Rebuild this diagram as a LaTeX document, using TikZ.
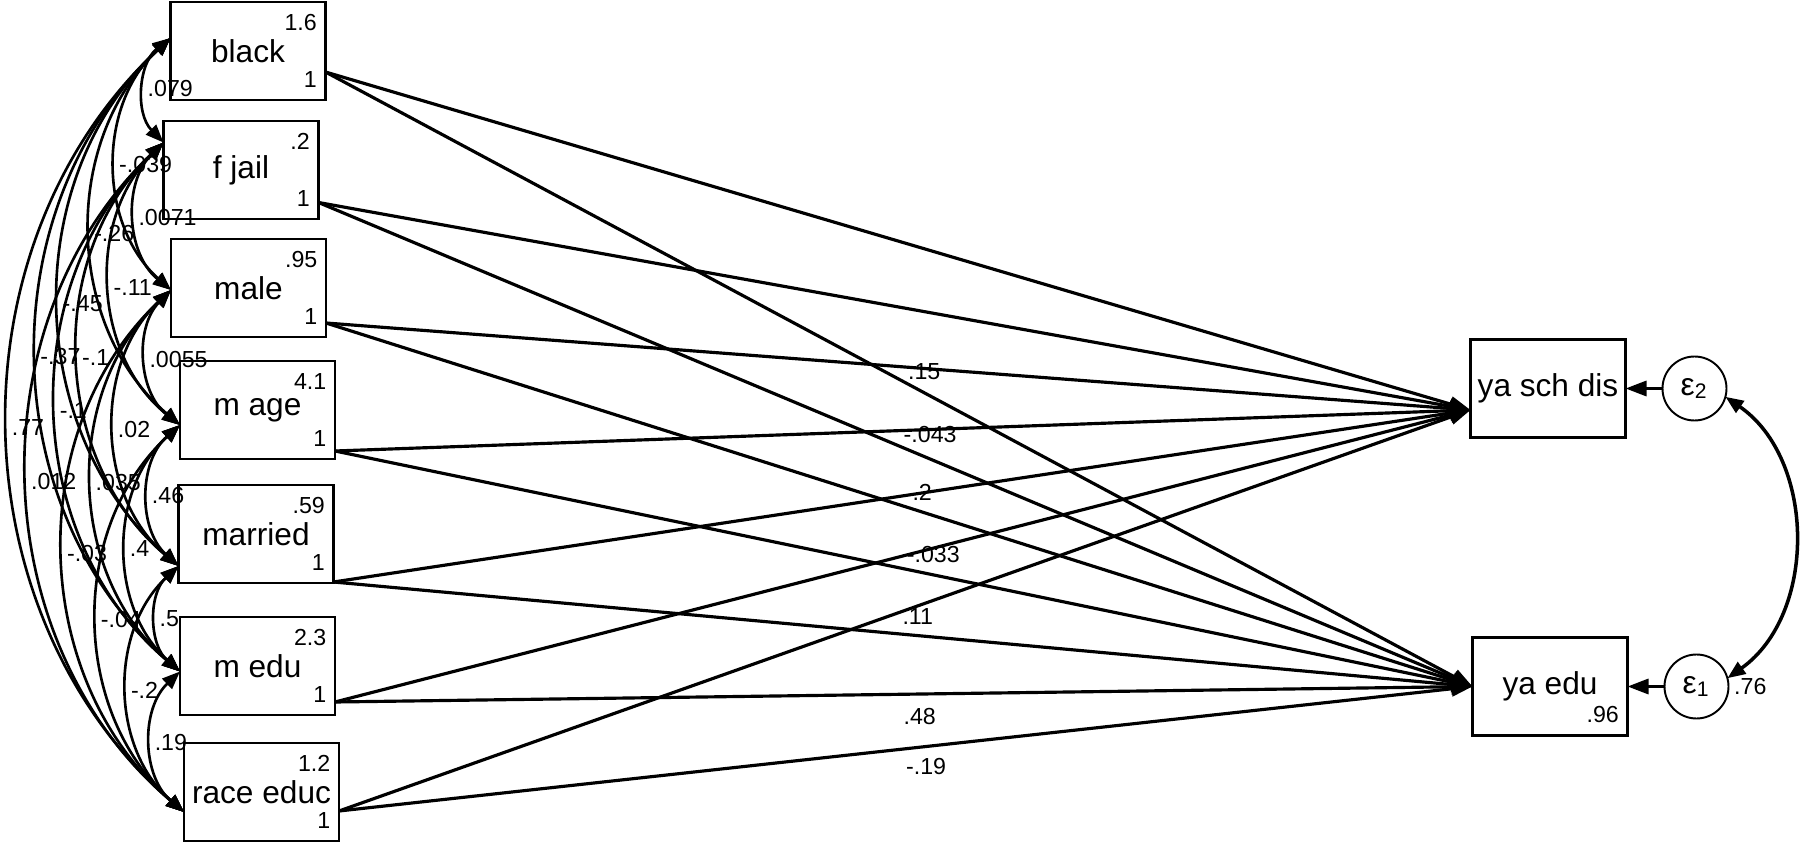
\documentclass[tikz,border=0pt]{standalone}
\usepackage{fontspec}
\setmainfont{Liberation Sans}
\usetikzlibrary{arrows.meta, positioning}

\begin{document}
\begin{tikzpicture}[
  obs/.style={
    rectangle, draw, line width=0.8pt, inner sep=0pt, outer sep=0pt,
    minimum width=1.55cm, minimum height=0.98cm,
    font=\fontsize{9}{11}\selectfont,
  },
  cornerlab/.style={font=\fontsize{6.6}{8}\selectfont, inner xsep=0.8mm, inner ysep=1.2mm},
  exo/.style={
    obs,
    label={[cornerlab, anchor=north east]north east:#1},
    label={[cornerlab, anchor=south east]south east:1},
  },
  err/.style={
    circle, draw, line width=0.55pt, inner sep=0pt, outer sep=0pt,
    minimum size=0.64cm, font=\fontsize{9}{11}\selectfont,
  },
  reg/.style={-{Triangle[length=2.1mm, width=1.5mm]}, line width=0.9pt},
  cov/.style={
    {Triangle[length=1.8mm, width=1.4mm]}-{Triangle[length=1.8mm, width=1.4mm]},
    line width=0.75pt, bend right=48,
  },
  plab/.style={font=\fontsize{6.6}{8}\selectfont, inner sep=0pt},
  clab/.style={font=\fontsize{6.6}{8}\selectfont, inner sep=0.6pt, anchor=west, pos=0.5},
]
  \useasboundingbox (0,0) rectangle (18,8.45);

  % Exogenous variables (left column)
  \node[exo=1.6] (black) at (2.48,7.94) {black};
  \node[exo=.2, below=0.21cm of black, xshift=-0.7mm] (fjail) {f jail};
  \node[exo=.95, below=0.2cm of fjail, xshift=0.75mm] (male) {male};
  \node[exo=4.1, below=0.24cm of male, xshift=0.9mm] (mage) {m age};
  \node[exo=.59, below=0.26cm of mage, xshift=-0.15mm] (married) {married};
  \node[exo=2.3, below=0.34cm of married, xshift=0.15mm] (medu) {m edu};
  \node[exo=1.2, below=0.28cm of medu, xshift=0.4mm] (raceeduc) {race educ};

  % Endogenous variables and errors
  \node[obs] (ysd) at (15.48,4.565) {ya sch dis};
  \node[obs, below=2cm of ysd, xshift=0.2mm,
    label={[cornerlab, anchor=south east]south east:.96}] (yedu) {ya edu};
  \node[err, right=0.37cm of ysd] (e2) {ε\textsubscript{2}};
  \node[err, right=0.37cm of yedu,
    label={[plab, anchor=west, inner sep=0.5mm]east:.76}] (e1) {ε\textsubscript{1}};

  % Regression paths
  \draw[reg] ([yshift=-2.1mm]black.east) -- ([yshift=-2.15mm]ysd.west);
  \draw[reg] ([yshift=-2.1mm]black.east) -- node[plab, pos=.522, yshift=2.1mm] {.15} (yedu.west);
  \draw[reg] ([yshift=-3.25mm]fjail.east) -- ([yshift=-2.15mm]ysd.west);
  \draw[reg] ([yshift=-3.25mm]fjail.east) -- node[plab, pos=.53, yshift=2.5mm] {-.043} (yedu.west);
  \draw[reg] ([yshift=-3.5mm]male.east) -- ([yshift=-2.15mm]ysd.west);
  \draw[reg] ([yshift=-3.5mm]male.east) -- node[plab, pos=.52, yshift=2mm] {.2} (yedu.west);
  \draw[reg] ([yshift=-4.1mm]mage.east) -- ([yshift=-2.15mm]ysd.west);
  \draw[reg] ([yshift=-4.1mm]mage.east) -- node[plab, pos=.526, yshift=2mm] {-.033} (yedu.west);
  \draw[reg] ([yshift=-4.8mm]married.east) -- ([yshift=-2.15mm]ysd.west);
  \draw[reg] ([yshift=-4.8mm]married.east) -- node[plab, pos=.513, yshift=1.9mm] {.11} (yedu.west);
  \draw[reg] ([yshift=-3.6mm]medu.east) -- ([yshift=-2.15mm]ysd.west);
  \draw[reg] ([yshift=-3.6mm]medu.east) -- node[plab, pos=.514, yshift=-2.2mm] {.48} (yedu.west);
  \draw[reg] ([yshift=-1.9mm]raceeduc.east) -- ([yshift=-2.15mm]ysd.west);
  \draw[reg] ([yshift=-1.9mm]raceeduc.east) -- node[plab, pos=.518, yshift=-2mm] {-.19} (yedu.west);

  % Error terms
  \draw[reg] (e2.west) -- (ysd.east);
  \draw[reg] (e1.west) -- (yedu.east);
  \draw[cov, line width=1pt, bend left=55] (e2.-15) to (e1.15);

  % Covariance attach points
  \coordinate (blackL) at ([yshift=1.3mm]black.west);
  \coordinate (fjailL) at ([yshift=2.75mm]fjail.west);
  \coordinate (maleL) at ([yshift=-0.2mm]male.west);
  \coordinate (mageL) at ([yshift=-1.5mm]mage.west);
  \coordinate (marriedL) at ([yshift=-3.2mm]married.west);
  \coordinate (meduL) at ([yshift=-0.55mm]medu.west);
  \coordinate (raceeducL) at ([yshift=-2mm]raceeduc.west);

  % Covariances
  \draw[cov] (blackL) to node[clab] {.079} (fjailL);
  \draw[cov] (fjailL) to node[clab] {.0071} (maleL);
  \draw[cov] (maleL) to node[clab] {.0055} (mageL);
  \draw[cov] (mageL) to node[clab] {.46} (marriedL);
  \draw[cov] (marriedL) to node[clab] {.5} (meduL);
  \draw[cov] (meduL) to node[clab] {.19} (raceeducL);
  \draw[cov] (blackL) to node[clab] {-.039} (maleL);
  \draw[cov] (fjailL) to node[clab] {-.11} (mageL);
  \draw[cov] (maleL) to node[clab] {.02} (marriedL);
  \draw[cov] (mageL) to node[clab] {.4} (meduL);
  \draw[cov] (marriedL) to node[clab] {-.2} (raceeducL);
  \draw[cov] (blackL) to node[clab] {-.26} (mageL);
  \draw[cov] (fjailL) to node[clab] {-.1} (marriedL);
  \draw[cov] (maleL) to node[clab] {.035} (meduL);
  \draw[cov] (mageL) to node[clab] {-.04} (raceeducL);
  \draw[cov] (blackL) to node[clab] {-.45} (marriedL);
  \draw[cov] (fjailL) to node[clab] {-.1} (meduL);
  \draw[cov] (maleL) to node[clab] {-.03} (raceeducL);
  \draw[cov] (blackL) to node[clab] {-.37} (meduL);
  \draw[cov] (fjailL) to node[clab] {.012} (raceeducL);
  \draw[cov] (blackL) to node[clab] {.77} (raceeducL);
\end{tikzpicture}
\end{document}
